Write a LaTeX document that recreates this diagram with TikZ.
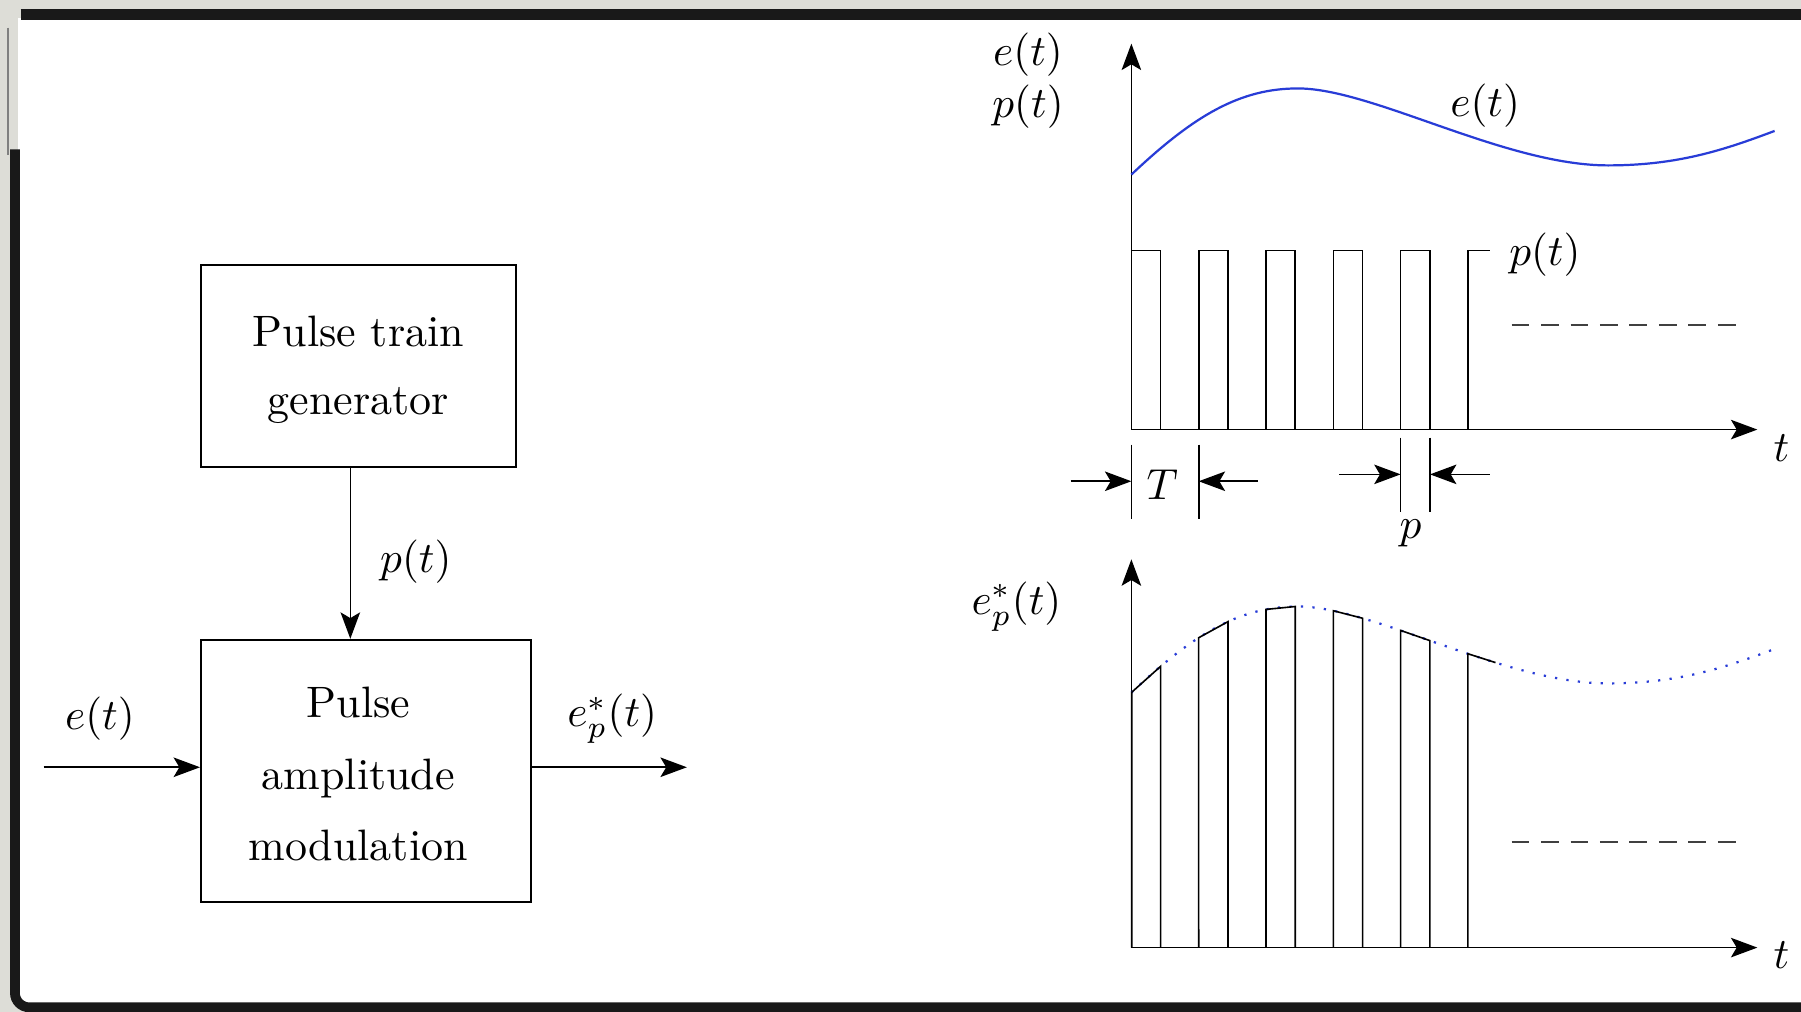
\RequirePackage{fix-cm}
\documentclass[tikz,border=0pt]{standalone}
\usetikzlibrary{arrows.meta,intersections}
\definecolor{ecol}{RGB}{40,60,215}
\definecolor{bggrey}{RGB}{221,221,215}
\definecolor{band}{RGB}{25,25,25}
\begin{document}
\begin{tikzpicture}[x=0.02cm,y=-0.02cm,
  font=\fontsize{10}{15.3}\selectfont,
  line width=0.8pt,
  arr/.style={-{Stealth[length=0.46cm,width=0.34cm,inset=0.1cm]}},
  blockbox/.style={draw,line width=1pt,inner sep=0pt},
  lab/.style={inner sep=0pt,scale=2.15,transform shape},
  boxtext/.style={inner sep=0pt,scale=2.18,transform shape,align=center},
  curveline/.style={ecol,line width=1.1pt},
  curvedots/.style={ecol,line width=1.1pt,dash pattern=on 1.1pt off 4.6pt},
  dashline/.style={black!75,line width=1.2pt,dash pattern=on 8.8pt off 5.8pt},
  pulse/.style={line width=0.8pt}]
\useasboundingbox (0,0) rectangle (1568,881);
% frame
\fill[bggrey] (0,0) rectangle (1568,881);
\fill[white] (16,16) rectangle (1568,875);
\draw[band,line width=0.19cm] (18,13) -- (1568,13);
\draw[gray,line width=0.9pt] (7,24) -- (7,135);
\draw[band,line width=0.17cm,rounded corners=0.25cm] (13,130) -- (13,877) -- (1568,877);

% ---------- block diagram ----------
\node[blockbox,minimum width=5.48cm,minimum height=3.52cm] (b1) at (312,319) {};
\node[boxtext] (t1) at (312,322) {Pulse train\\generator};
\node[blockbox,minimum width=5.74cm,minimum height=4.56cm] (b2) at (318.5,671) {};
\node[boxtext,font=\fontsize{10}{16.2}\selectfont] (t2) at (312,674) {Pulse\\amplitude\\modulation};
\coordinate (pt) at (305,0);
\draw[arr] (pt |- b1.south) -- (pt |- b2.north);
\coordinate (ein) at (38,668);
\coordinate (eout) at (598,668);
\draw[arr] (ein) -- (ein -| b2.west);
\draw[arr] (eout -| b2.east) -- (eout);
\node[lab] (le) at (87,626) {$e(t)$};
\node[lab] (lep) at (533,626) {$e_p^*(t)$};
\node[lab] (lp) at (362,489) {$p(t)$};

% ---------- top plot ----------
\coordinate (O1) at (985,374);
\coordinate (Y1) at (985,38);
\coordinate (X1) at (1530,374);
\draw[arr] (O1) -- (Y1);
\draw[arr] (O1) -- (X1);
\draw[curveline] (985,152) .. controls (1040,100) and (1080,77) .. (1130,77)
  .. controls (1195,77) and (1310,144) .. (1400,144)
  .. controls (1460,144) and (1500,131) .. (1545,114);
\draw[pulse] (985,218) -- (1010.5,218) -- (1010.5,374);
\foreach \k in {1,...,4}{
  \draw[pulse] ({985+\k*58.6},374) -- ++(0,-156) -- ++(25.5,0) -- ++(0,156);
}
\draw[pulse] ({985+5*58.6},374) -- ++(0,-156) -- ++(19,0);
\draw[dashline] (1316,283) -- (1512,283);
\node[lab] (ly1) at (895,48) {$e(t)$};
\node[lab] (ly2) at (895,93) {$p(t)$};
\node[lab] (lec) at (1293,92) {$e(t)$};
\node[lab] (lpc) at (1345,222) {$p(t)$};
\node[lab] (lt1) at (1551,390) {$t$};

% dimension marks
\draw[pulse] (985,387) -- (985,452);
\draw[pulse] (1043.6,387) -- (1043.6,452);
\coordinate (Ta) at (932,419);
\coordinate (Tb) at (1095,419);
\coordinate (T0) at (985,419);
\coordinate (T1) at (1043.6,419);
\draw[arr] (Ta) -- (T0);
\draw[arr] (Tb) -- (T1);
\node[lab] (lT) at (1012,422) {$T$};
\draw[pulse] (1219.4,381) -- (1219.4,446);
\draw[pulse] (1245,381) -- (1245,446);
\coordinate (Pa) at (1166,413);
\coordinate (Pb) at (1297,413);
\coordinate (P0) at (1219.4,413);
\coordinate (P1) at (1245,413);
\draw[arr] (Pa) -- (P0);
\draw[arr] (Pb) -- (P1);
\node[lab] (lpw) at (1228,464) {$p$};

% ---------- bottom plot ----------
\coordinate (O2) at (985,825);
\coordinate (Y2) at (985,487);
\coordinate (X2) at (1530,825);
\draw[arr] (O2) -- (Y2);
\draw[arr] (O2) -- (X2);
\draw[curvedots,name path=cb] (985,603) .. controls (1040,551) and (1080,528) .. (1130,528)
  .. controls (1195,528) and (1310,595) .. (1400,595)
  .. controls (1460,595) and (1500,582) .. (1545,565);
\foreach \k in {0,...,5}{
  \pgfmathsetmacro\xa{985+\k*58.6+0.3*(\k==0)}
  \pgfmathsetmacro\xb{985+\k*58.6+25.5-1.5*(\k==5)}
  \path[name path=va] (\xa,470) -- (\xa,830);
  \path[name path=vb] (\xb,470) -- (\xb,830);
  \path[name intersections={of=cb and va,by=A}];
  \path[name intersections={of=cb and vb,by=B}];
  \ifnum\k=5
    \draw[pulse] (\xa,825) -- (A) -- (B);
  \else
    \draw[pulse] (\xa,825) -- (A) -- (B) -- (\xb,825);
  \fi
}
\draw[dashline] (1316,733) -- (1512,733);
\node[lab] (lep2) at (885,528) {$e_p^*(t)$};
\node[lab] (lt2) at (1551,832) {$t$};
\end{tikzpicture}
\end{document}
